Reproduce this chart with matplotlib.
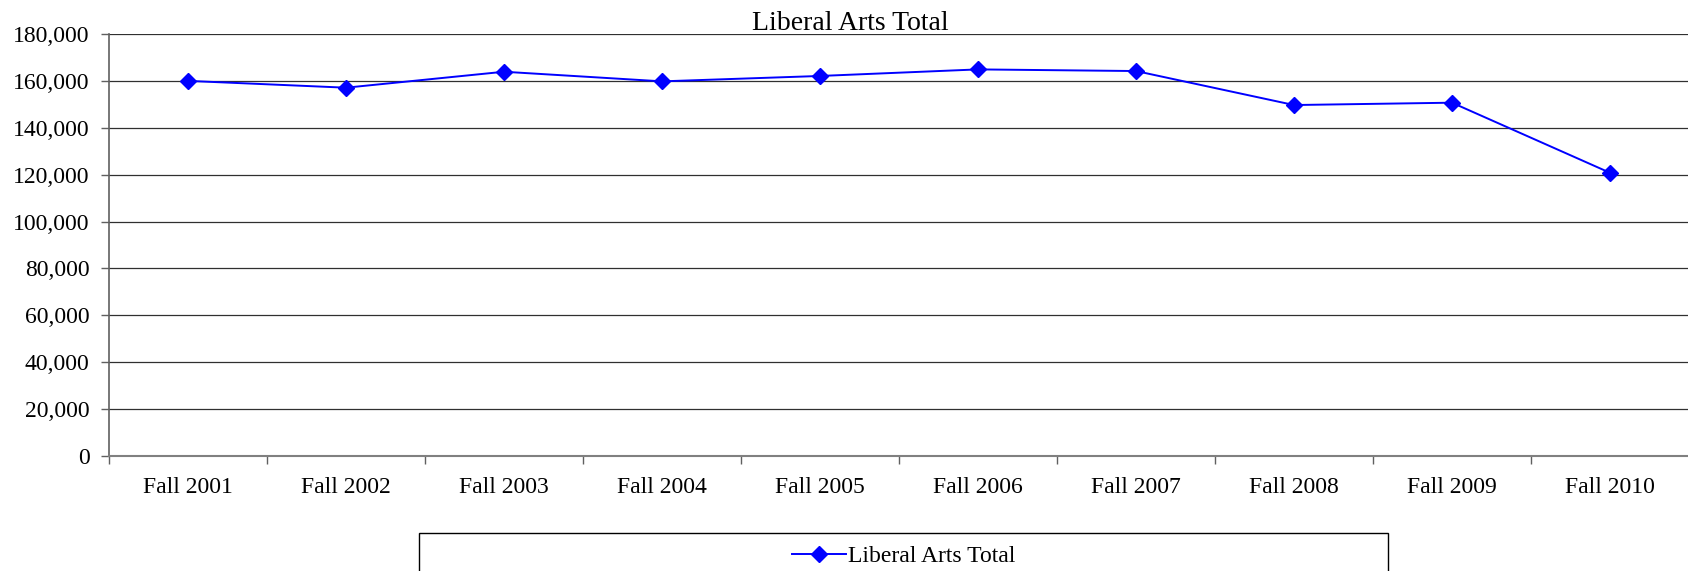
import numpy as np
import matplotlib
matplotlib.use('Agg')
import matplotlib.pyplot as plt
from matplotlib.patches import Rectangle

terms = ['Fall 2001', 'Fall 2002', 'Fall 2003', 'Fall 2004', 'Fall 2005',
         'Fall 2006', 'Fall 2007', 'Fall 2008', 'Fall 2009', 'Fall 2010']
liberal_arts_total = [160000, 157100, 163900, 159800, 162100,
                      164900, 164200, 149700, 150700, 120800]
y_ticks = np.arange(0, 180001, 20000)

plt.rcParams['font.family'] = ['Liberation Serif', 'DejaVu Serif']

W, H = 1688, 571
fig = plt.figure(figsize=(W / 100, H / 100), dpi=100)
# axes box in pixels: left 109, right 1689, top 34, bottom 456
ax = fig.add_axes([109 / W, 1 - 456 / H, 1580 / W, 422 / H])

x = np.arange(len(terms))
ax.plot(x, liberal_arts_total, color='#0000FF', lw=1.4, marker='D',
        markersize=8, markerfacecolor='#0000FF', markeredgecolor='#0000FF',
        label='Liberal Arts Total', zorder=3)

ax.set_xlim(-0.5, len(terms) - 0.5)
ax.set_ylim(0, 180000)
ax.set_yticks(y_ticks)
ax.set_yticklabels([f'{v:,}' for v in y_ticks])
ax.yaxis.grid(True, color='#303030', lw=0.9)
ax.set_axisbelow(True)

ax.set_xticks(x)
ax.set_xticklabels(terms)
ax.set_xticks(np.arange(-0.5, len(terms)), minor=True)
ax.tick_params(axis='x', which='major', length=0, pad=15, labelsize=17)
ax.tick_params(axis='x', which='minor', length=6, width=1, color='#606060')
ax.tick_params(axis='y', length=6, width=1, color='#606060', pad=8, labelsize=17)

for s in ['top', 'right']:
    ax.spines[s].set_visible(False)
ax.spines['left'].set_color('#606060')
ax.spines['bottom'].set_color('#808080')
ax.spines['left'].set_linewidth(1.2)
ax.spines['bottom'].set_linewidth(1.5)

fig.text(850 / W, 1 - 24 / H, 'Liberal Arts Total', ha='center',
         va='center', fontsize=20)

# legend frame (runs off the bottom edge, like the original)
fig.patches.append(Rectangle((419 / W, -0.05), (1388 - 419) / W, 0.05 + (571 - 533) / H,
                             transform=fig.transFigure, fill=False,
                             edgecolor='black', lw=1.0))
fig.legend(loc='center', bbox_to_anchor=(903.5 / W, 1 - 556 / H),
           fontsize=17, frameon=False, numpoints=1, handlelength=2.3,
           handletextpad=0.05, borderpad=0)

fig.savefig('out.png', dpi=100)
